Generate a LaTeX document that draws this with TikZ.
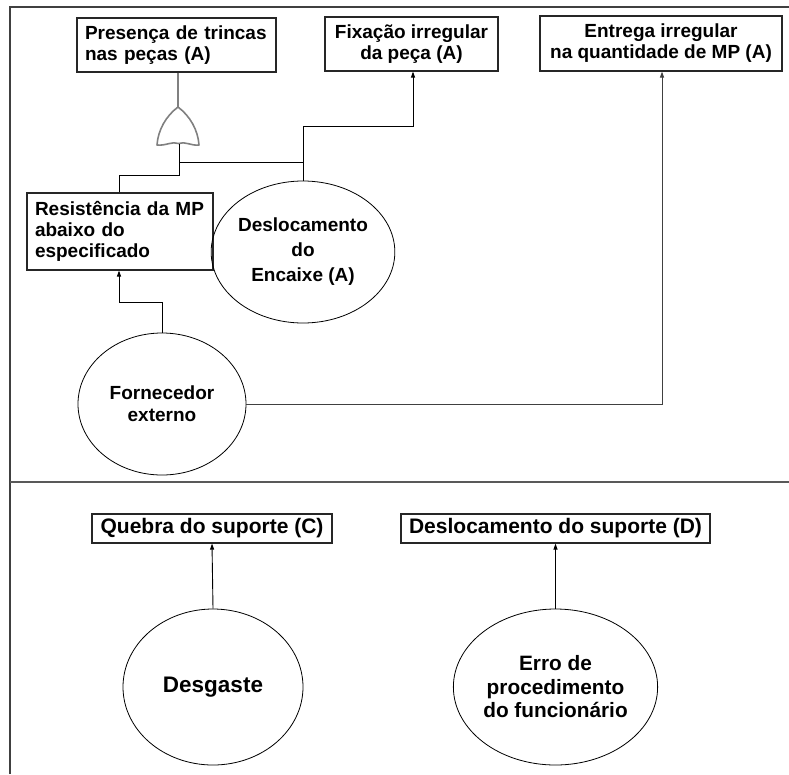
\documentclass[tikz,border=0pt]{standalone}
\usepackage{fontspec}
\setmainfont{Liberation Sans}
\usetikzlibrary{shapes.geometric,arrows.meta}
\begin{document}
\begin{tikzpicture}[x=1pt,y=-1pt,
  box/.style={draw=black!85,line width=1.1pt,inner sep=0pt,font=\bfseries\fontsize{19}{21}\selectfont},
  bbox/.style={draw=black!85,line width=1.1pt,inner sep=0pt,font=\bfseries\fontsize{21}{23}\selectfont},
  ell/.style={draw=black,line width=0.8pt,ellipse,inner sep=0pt,align=center,font=\bfseries\fontsize{19}{22}\selectfont},
  conn/.style={draw=black,line width=0.9pt},
  arr/.style={conn,-{Triangle[length=6pt,width=4pt]}},
  frame/.style={draw=black!75,line width=1.4pt},
  gate/.style={draw=black!50,line width=1.6pt,line join=round}]
\useasboundingbox (0,0) rectangle (789,774);
% frame
\draw[frame] (10,774) -- (10,7) -- (789,7);
\draw[frame,draw=black!65,line width=1.8pt] (10,482) -- (789,482);
% top boxes
\node[box,minimum width=199,minimum height=54,text width=183,align=left] (pres) at (176.5,45) {Presença de trincas\\nas peças (A)};
\node[box,minimum width=173,minimum height=54,align=center] (fix) at (411.5,44) {Fixação irregular\\da peça (A)};
\node[box,minimum width=242,minimum height=55,align=center] (ent) at (661,43.5) {Entrega irregular\\na quantidade de MP (A)};
\node[box,minimum width=186,minimum height=77,text width=170,align=left] (res) at (120,231.5) {Resistência da MP\\abaixo do\\especificado};
\node[ell,minimum width=168,minimum height=142,font=\bfseries\fontsize{19}{25}\selectfont] (desl) at (303,252) {Deslocamento\\do\\Encaixe (A)};
\node[ell,minimum width=168,minimum height=142] (forn) at (162,404) {Fornecedor\\externo};
% bottom
\node[bbox,minimum width=240,minimum height=29] (queb) at (212,528.5) {Quebra do suporte (C)};
\node[bbox,minimum width=309,minimum height=29] (dsup) at (555.5,528.5) {Deslocamento do suporte (D)};
\node[ell,minimum width=180,minimum height=156,font=\bfseries\fontsize{22.5}{26}\selectfont] (desg) at (213,687) {Desgaste};
\node[ell,minimum width=182,minimum height=156,font=\bfseries\fontsize{20.8}{23.5}\selectfont] (erro) at (555.5,687) {Erro de\\procedimento\\do funcionário};
% OR gate
\coordinate (gtop) at (178,107);
\coordinate (gbot) at (178.5,143.5);
\draw[gate] (gtop) .. controls (166,116) and (158,130) .. (157,145)
  .. controls (166,146) and (172,141) .. (gbot)
  .. controls (185,141) and (191,146) .. (199,145)
  .. controls (198,130) and (190,116) .. (gtop) -- cycle;
\draw[gate,line width=1.3pt] (pres.south -| gtop) -- (gtop);
% connectors to gate
\draw[conn] (res.north -| 119,0) |- (179,175) -- (179,143.5);
\draw[conn] (desl.north) -- (303,162) -- (179,162);
\draw[arr] (303,162) -- (303,126) -- (413,126) -- (fix.south -| 413,0);
\draw[arr] (forn.north) -- (162,302) -- (119,302) -- (res.south -| 119,0);
\draw[arr,draw=black!75] (forn.east) -- (662,404) -- (ent.south -| 662,0);
\draw[arr] (desg.north) -- (queb.south);
\draw[arr] (erro.north) -- (dsup.south);
\end{tikzpicture}
\end{document}
